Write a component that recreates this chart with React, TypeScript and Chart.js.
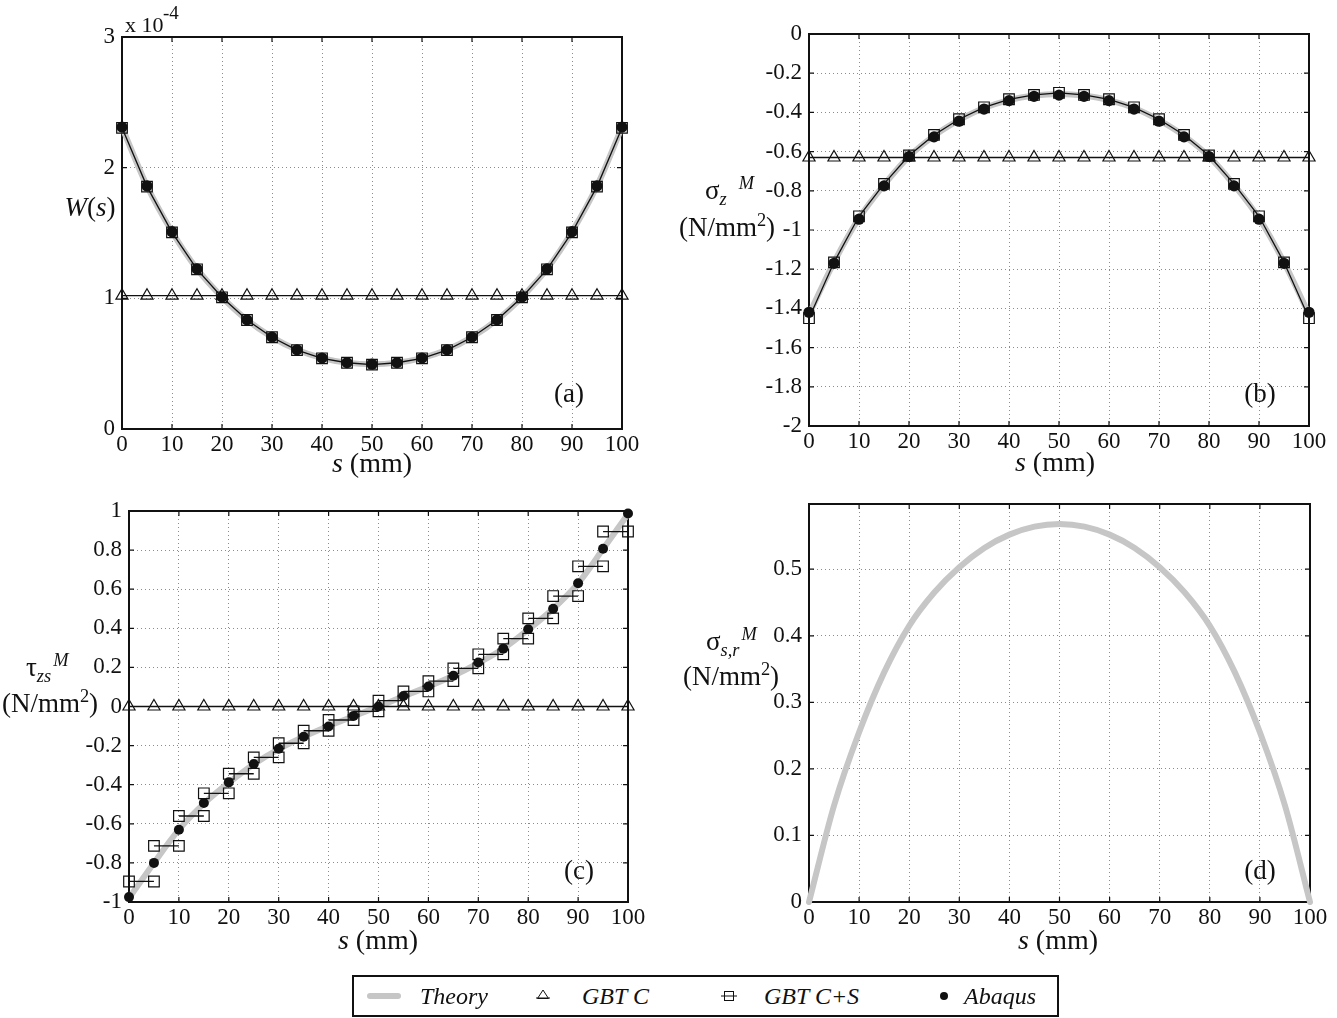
import React, { useEffect, useRef } from 'react';
import { Chart, registerables } from 'chart.js';

Chart.register(...registerables);

// ---------- data ----------
const S = [0, 5, 10, 15, 20, 25, 30, 35, 40, 45, 50, 55, 60, 65, 70, 75, 80, 85, 90, 95, 100];
const X_TICKS = [0, 10, 20, 30, 40, 50, 60, 70, 80, 90, 100];

// (a) warping function W(s)
const wTheory = [2.31e-4, 1.86e-4, 1.51e-4, 1.225e-4, 1.01e-4, 0.835e-4, 0.703e-4, 0.606e-4, 0.543e-4, 0.508e-4, 0.496e-4, 0.508e-4, 0.543e-4, 0.606e-4, 0.703e-4, 0.835e-4, 1.01e-4, 1.225e-4, 1.51e-4, 1.86e-4, 2.31e-4];
const wGbtC = [1.02e-4, 1.02e-4, 1.02e-4, 1.02e-4, 1.02e-4, 1.02e-4, 1.02e-4, 1.02e-4, 1.02e-4, 1.02e-4, 1.02e-4, 1.02e-4, 1.02e-4, 1.02e-4, 1.02e-4, 1.02e-4, 1.02e-4, 1.02e-4, 1.02e-4, 1.02e-4, 1.02e-4];
const wGbtCS = [2.305e-4, 1.855e-4, 1.505e-4, 1.222e-4, 1.008e-4, 0.834e-4, 0.702e-4, 0.604e-4, 0.541e-4, 0.507e-4, 0.493e-4, 0.507e-4, 0.541e-4, 0.604e-4, 0.702e-4, 0.834e-4, 1.008e-4, 1.222e-4, 1.505e-4, 1.855e-4, 2.305e-4];
const wAbaqus = [2.31e-4, 1.86e-4, 1.51e-4, 1.225e-4, 1.01e-4, 0.835e-4, 0.703e-4, 0.606e-4, 0.543e-4, 0.508e-4, 0.496e-4, 0.508e-4, 0.543e-4, 0.606e-4, 0.703e-4, 0.835e-4, 1.01e-4, 1.225e-4, 1.51e-4, 1.86e-4, 2.31e-4];
const wTicks = [0, 1e-4, 2e-4, 3e-4];
const wTickLabels = ['0', '1', '2', '3'];

// (b) longitudinal normal stress
const szTheory = [-1.43, -1.165, -0.94, -0.77, -0.625, -0.52, -0.44, -0.378, -0.337, -0.314, -0.306, -0.314, -0.337, -0.378, -0.44, -0.52, -0.625, -0.77, -0.94, -1.165, -1.43];
const szGbtC = [-0.63, -0.63, -0.63, -0.63, -0.63, -0.63, -0.63, -0.63, -0.63, -0.63, -0.63, -0.63, -0.63, -0.63, -0.63, -0.63, -0.63, -0.63, -0.63, -0.63, -0.63];
const szGbtCS = [-1.45, -1.165, -0.93, -0.765, -0.62, -0.515, -0.435, -0.374, -0.333, -0.311, -0.3, -0.311, -0.333, -0.374, -0.435, -0.515, -0.62, -0.765, -0.93, -1.165, -1.45];
const szAbaqus = [-1.42, -1.17, -0.945, -0.775, -0.625, -0.525, -0.445, -0.383, -0.34, -0.318, -0.312, -0.318, -0.34, -0.383, -0.445, -0.525, -0.625, -0.775, -0.945, -1.17, -1.42];
const szTicks = [0, -0.2, -0.4, -0.6, -0.8, -1, -1.2, -1.4, -1.6, -1.8, -2];
const szTickLabels = ['0', '-0.2', '-0.4', '-0.6', '-0.8', '-1', '-1.2', '-1.4', '-1.6', '-1.8', '-2'];

// (c) shear stress
const tauTheory = [-0.98, -0.8, -0.63, -0.497, -0.39, -0.295, -0.218, -0.155, -0.1, -0.05, 0, 0.052, 0.102, 0.157, 0.222, 0.296, 0.393, 0.5, 0.63, 0.805, 0.985];
const tauGbtC = [0, 0, 0, 0, 0, 0, 0, 0, 0, 0, 0, 0, 0, 0, 0, 0, 0, 0, 0, 0, 0];
// GBT C+S: constant value per 5 mm element (20 elements)
const tauGbtCSElem = [-0.895, -0.713, -0.56, -0.444, -0.344, -0.26, -0.188, -0.124, -0.069, -0.025, 0.03, 0.077, 0.13, 0.195, 0.267, 0.347, 0.451, 0.565, 0.717, 0.895];
const tauAbaqus = [-0.975, -0.8, -0.63, -0.494, -0.388, -0.294, -0.216, -0.155, -0.102, -0.048, 0, 0.054, 0.102, 0.157, 0.225, 0.296, 0.395, 0.5, 0.63, 0.807, 0.987];
const tauTicks = [1, 0.8, 0.6, 0.4, 0.2, 0, -0.2, -0.4, -0.6, -0.8, -1];
const tauTickLabels = ['1', '0.8', '0.6', '0.4', '0.2', '0', '-0.2', '-0.4', '-0.6', '-0.8', '-1'];

// (d) transverse stress (theory only)
const srTheory = [0, 0.145, 0.255, 0.345, 0.415, 0.465, 0.503, 0.532, 0.552, 0.564, 0.568, 0.564, 0.552, 0.532, 0.503, 0.465, 0.415, 0.345, 0.255, 0.145, 0];
const srTicks = [0, 0.1, 0.2, 0.3, 0.4, 0.5];
const srTickLabels = ['0', '0.1', '0.2', '0.3', '0.4', '0.5'];

// ---------- styling ----------
const FONT = "'Liberation Serif', 'Times New Roman', Times, serif";
const PAD = { l: 90, r: 45, t: 22, b: 50 };
const INK = '#111111';
const THEORY_GRAY = '#c6c6c6';

const pts = (ys: (number | null)[]) => ys.map((y, i) => ({ x: S[i], y }));

const stepPts = (elems: number[]) => {
  const out: { x: number; y: number | null }[] = [];
  elems.forEach((v, i) => {
    out.push({ x: S[i], y: v });
    out.push({ x: S[i + 1], y: v });
    out.push({ x: S[i + 1], y: null });
  });
  return out;
};

const theoryDs = (ys: number[]) => ({
  data: pts(ys), borderColor: THEORY_GRAY, borderWidth: 6, pointRadius: 0,
  cubicInterpolationMode: 'monotone', order: 4, clip: false, borderCapStyle: 'round',
});
const gbtCDs = (ys: number[]) => ({
  data: pts(ys), borderColor: INK, borderWidth: 1.3, pointStyle: 'triangle', pointRadius: 7,
  pointBorderColor: INK, pointBackgroundColor: 'rgba(0,0,0,0)', pointBorderWidth: 1.2, order: 3, clip: false,
});
const gbtCSDs = (data: any[]) => ({
  data, borderColor: INK, borderWidth: 1.3, pointStyle: 'rect', pointRadius: 7.5,
  pointBorderColor: INK, pointBackgroundColor: 'rgba(0,0,0,0)', pointBorderWidth: 1.2, order: 2, clip: false, spanGaps: false,
});
const abaqusDs = (ys: number[], r = 5) => ({
  data: pts(ys), showLine: false, pointStyle: 'circle', pointRadius: r, pointBorderWidth: 0,
  pointBackgroundColor: INK, pointBorderColor: INK, order: 1, clip: false,
});

const framePlugin = {
  id: 'frame',
  beforeDatasetsDraw(chart: any) {
    const { ctx, chartArea } = chart;
    const { left, right, top, bottom } = chartArea;
    const xs = chart.scales.x;
    const ys = chart.scales.y;
    const len = 5;
    ctx.save();
    ctx.strokeStyle = INK;
    ctx.lineWidth = 1.2;
    ctx.beginPath();
    xs.ticks.forEach((t: any) => {
      const p = xs.getPixelForValue(t.value);
      ctx.moveTo(p, bottom); ctx.lineTo(p, bottom - len);
      ctx.moveTo(p, top); ctx.lineTo(p, top + len);
    });
    ys.ticks.forEach((t: any) => {
      const p = ys.getPixelForValue(t.value);
      ctx.moveTo(left, p); ctx.lineTo(left + len, p);
      ctx.moveTo(right, p); ctx.lineTo(right - len, p);
    });
    ctx.stroke();
    ctx.lineWidth = 2;
    ctx.strokeRect(left, top, right - left, bottom - top);
    ctx.restore();
  },
};

type PanelProps = {
  L: number; R: number; T: number; B: number;
  yMin: number; yMax: number; yTicks: number[]; yLabels: string[];
  datasets: any[];
};

function Panel({ L, R, T, B, yMin, yMax, yTicks, yLabels, datasets }: PanelProps) {
  const ref = useRef<HTMLCanvasElement>(null);
  const w = R - L + PAD.l + PAD.r;
  const h = B - T + PAD.t + PAD.b;
  useEffect(() => {
    const tickFont = { family: FONT, size: 23 };
    const chart = new Chart(ref.current as HTMLCanvasElement, {
      type: 'line',
      data: { datasets },
      plugins: [framePlugin],
      options: {
        responsive: false,
        animation: false,
        events: [],
        layout: { padding: { left: 0, right: PAD.r, top: PAD.t, bottom: 0 } },
        plugins: { legend: { display: false }, tooltip: { enabled: false } },
        scales: {
          x: {
            type: 'linear', min: 0, max: 100,
            afterBuildTicks: (s: any) => { s.ticks = X_TICKS.map((v) => ({ value: v })); },
            afterFit: (s: any) => { s.height = PAD.b; },
            ticks: { font: tickFont, color: INK, padding: 2, maxRotation: 0, autoSkip: false, callback: (v: any) => String(v) },
            grid: { color: '#8c8c8c', lineWidth: 1, drawTicks: false },
            border: { display: false, dash: [1, 3] },
          },
          y: {
            type: 'linear', min: yMin, max: yMax,
            afterBuildTicks: (s: any) => { s.ticks = yTicks.map((v) => ({ value: v })); },
            afterFit: (s: any) => { s.width = PAD.l; },
            ticks: { font: tickFont, color: INK, padding: 7, autoSkip: false, callback: (_v: any, i: number) => yLabels[i] },
            grid: { color: '#8c8c8c', lineWidth: 1, drawTicks: false },
            border: { display: false, dash: [1, 3] },
          },
        },
      } as any,
    } as any);
    return () => chart.destroy();
  }, []);
  return (
    <canvas
      ref={ref}
      width={w}
      height={h}
      style={{ position: 'absolute', left: L - PAD.l, top: T - PAD.t, width: w, height: h }}
    />
  );
}

const Txt = ({ x, y, size = 27, align = 'center', children, style }: any) => (
  <div
    style={{
      position: 'absolute', left: x, top: y,
      transform: `translate(${align === 'center' ? '-50%' : align === 'right' ? '-100%' : '0'}, -50%)`,
      fontFamily: FONT, fontSize: size, lineHeight: 1, whiteSpace: 'nowrap', color: INK, ...style,
    }}
  >
    {children}
  </div>
);

const Sub = ({ children }: any) => (
  <span style={{ fontSize: '0.68em', fontStyle: 'italic', position: 'relative', top: '0.32em' }}>{children}</span>
);
const Sup = ({ children, ml = 0, italic = true }: any) => (
  <span style={{ fontSize: '0.68em', fontStyle: italic ? 'italic' : 'normal', position: 'relative', top: '-0.55em', marginLeft: ml }}>{children}</span>
);

const Units = () => (
  <span>(N/mm<Sup italic={false}>2</Sup>)</span>
);

export default function App() {
  const A = { L: 122, R: 622, T: 37, B: 429 };
  const Bp = { L: 809, R: 1309, T: 34, B: 426 };
  const C = { L: 129, R: 628, T: 511, B: 902 };
  const D = { L: 809, R: 1310, T: 504, B: 902 };
  return (
    <div style={{ position: 'absolute', left: 0, top: 0, width: 1337, height: 1018, background: '#fff', overflow: 'hidden' }}>
      <Panel {...A} yMin={0} yMax={3e-4} yTicks={wTicks} yLabels={wTickLabels}
        datasets={[theoryDs(wTheory), gbtCDs(wGbtC), gbtCSDs(pts(wGbtCS)), abaqusDs(wAbaqus, 5.6)]} />
      <Panel {...Bp} yMin={-2} yMax={0} yTicks={szTicks} yLabels={szTickLabels}
        datasets={[theoryDs(szTheory), gbtCDs(szGbtC), gbtCSDs(pts(szGbtCS)), abaqusDs(szAbaqus, 5.6)]} />
      <Panel {...C} yMin={-1} yMax={1} yTicks={tauTicks} yLabels={tauTickLabels}
        datasets={[theoryDs(tauTheory), gbtCDs(tauGbtC), gbtCSDs(stepPts(tauGbtCSElem)), abaqusDs(tauAbaqus, 5)]} />
      <Panel {...D} yMin={0} yMax={0.598} yTicks={srTicks} yLabels={srTickLabels}
        datasets={[theoryDs(srTheory)]} />

      {/* exponent of (a) */}
      <Txt x={125} y={25} size={22} align="left">x 10</Txt>
      <Txt x={163} y={12} size={19} align="left">-4</Txt>

      {/* y-axis titles */}
      <Txt x={90} y={207} size={27}><i>W</i>(<i>s</i>)</Txt>

      <Txt x={705} y={190} size={27} align="left">σ<Sub>z</Sub><Sup ml={12}>M</Sup></Txt>
      <Txt x={727} y={227} size={27}><Units /></Txt>

      <Txt x={26} y={667} size={27} align="left">τ<Sub>zs</Sub><Sup ml={2}>M</Sup></Txt>
      <Txt x={50} y={703} size={27}><Units /></Txt>

      <Txt x={706} y={641} size={27} align="left">σ<Sub>s,r</Sub><Sup ml={2}>M</Sup></Txt>
      <Txt x={731} y={676} size={27}><Units /></Txt>

      {/* x-axis titles */}
      <Txt x={372} y={463} size={28}><i>s</i> (mm)</Txt>
      <Txt x={1055} y={462} size={28}><i>s</i> (mm)</Txt>
      <Txt x={378} y={940} size={28}><i>s</i> (mm)</Txt>
      <Txt x={1058} y={940} size={28}><i>s</i> (mm)</Txt>

      {/* panel tags */}
      <Txt x={569} y={393} size={27}>(a)</Txt>
      <Txt x={1260} y={393} size={27}>(b)</Txt>
      <Txt x={579} y={870} size={27}>(c)</Txt>
      <Txt x={1260} y={870} size={27}>(d)</Txt>

      {/* legend */}
      <div style={{ position: 'absolute', left: 352, top: 975, width: 707, height: 42, border: '2px solid #111', boxSizing: 'border-box' }}>
        <svg width={707} height={42} style={{ position: 'absolute', left: -2, top: -2 }}>
          <line x1={18} y1={21} x2={46} y2={21} stroke={THEORY_GRAY} strokeWidth={6} strokeLinecap="round" />
          <line x1={184} y1={23} x2={198} y2={23} stroke={INK} strokeWidth={1} />
          <polygon points="191,15 185.5,23.5 196.5,23.5" fill="none" stroke={INK} strokeWidth={1} />
          <line x1={369} y1={21} x2={385} y2={21} stroke={INK} strokeWidth={1} />
          <rect x={372.5} y={16.5} width={9} height={9} fill="none" stroke={INK} strokeWidth={1} />
          <circle cx={592} cy={21} r={4} fill={INK} />
        </svg>
        <Txt x={66} y={19} size={24} align="left" style={{ fontStyle: 'italic' }}>Theory</Txt>
        <Txt x={228} y={19} size={24} align="left" style={{ fontStyle: 'italic' }}>GBT C</Txt>
        <Txt x={410} y={19} size={24} align="left" style={{ fontStyle: 'italic' }}>GBT C+S</Txt>
        <Txt x={610} y={19} size={24} align="left" style={{ fontStyle: 'italic' }}>Abaqus</Txt>
      </div>
    </div>
  );
}
